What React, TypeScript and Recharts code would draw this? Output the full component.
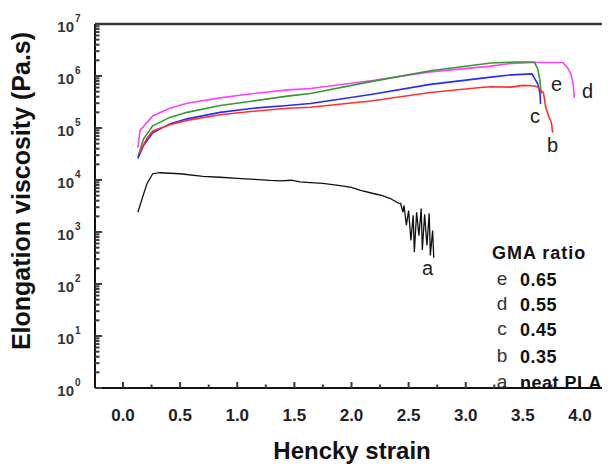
import React from 'react';
import { LineChart, Line, XAxis, YAxis, CartesianGrid } from 'recharts';

const FONT = '"Liberation Sans", Arial, sans-serif';

// Hencky strain / elongation viscosity (Pa.s)
const seriesA_x = [0.13, 0.17, 0.21, 0.26, 0.32, 0.5, 0.7, 0.85, 1.0, 1.15, 1.29, 1.38, 1.47, 1.55, 1.64, 1.75, 1.9, 2.0, 2.08, 2.19, 2.27, 2.34, 2.41, 2.43, 2.45, 2.46, 2.48, 2.5, 2.52, 2.54, 2.55, 2.57, 2.59, 2.61, 2.62, 2.64, 2.66, 2.68, 2.69, 2.71, 2.72];
const seriesA_y = [2400, 4570, 8500, 13200, 13800, 13200, 11700, 11300, 10700, 10300, 9800, 9600, 9900, 9200, 8900, 8600, 7800, 7200, 6300, 5500, 5000, 4400, 3600, 3550, 2400, 3240, 1350, 2570, 690, 2090, 410, 2400, 850, 2820, 450, 2190, 550, 2290, 355, 1070, 320];

const seriesB_x = [0.14, 0.21, 0.26, 0.41, 0.56, 0.85, 1.14, 1.44, 1.64, 2.17, 2.69, 3.13, 3.22, 3.4, 3.5, 3.58, 3.62, 3.68, 3.7, 3.73, 3.75, 3.76];
const seriesB_y = [32000, 64000, 88000, 116000, 140000, 180000, 210000, 240000, 250000, 330000, 480000, 600000, 620000, 610000, 660000, 650000, 630000, 480000, 250000, 160000, 126000, 81000];

const seriesC_x = [0.13, 0.18, 0.26, 0.41, 0.56, 0.85, 1.14, 1.44, 1.64, 2.17, 2.69, 3.22, 3.4, 3.58, 3.6, 3.63, 3.65, 3.655];
const seriesC_y = [26000, 46000, 81000, 120000, 150000, 200000, 240000, 270000, 295000, 440000, 690000, 950000, 1050000, 1100000, 920000, 710000, 460000, 290000];

const seriesD_x = [0.13, 0.15, 0.26, 0.41, 0.56, 0.85, 1.14, 1.44, 1.64, 2.17, 2.69, 3.22, 3.4, 3.6, 3.85, 3.89, 3.92, 3.94, 3.95];
const seriesD_y = [42000, 90000, 170000, 240000, 300000, 380000, 460000, 540000, 575000, 810000, 1200000, 1550000, 1750000, 1820000, 1820000, 1450000, 1100000, 710000, 380000];

const seriesE_x = [0.13, 0.18, 0.26, 0.41, 0.56, 0.85, 1.14, 1.44, 1.64, 2.17, 2.69, 3.22, 3.45, 3.6, 3.63, 3.65, 3.66];
const seriesE_y = [27000, 62000, 110000, 160000, 200000, 270000, 330000, 410000, 460000, 780000, 1260000, 1780000, 1860000, 1860000, 1370000, 810000, 450000];

const xTicks = [0, 0.25, 0.5, 0.75, 1, 1.25, 1.5, 1.75, 2, 2.25, 2.5, 2.75, 3, 3.25, 3.5, 3.75, 4];
const yMajorTicks = [1, 10, 100, 1000, 10000, 100000, 1000000, 10000000];
const legendTitle = 'GMA ratio';
const legendKeys = ['e', 'd', 'c', 'b', 'a'];
const legendLabels = ['0.65', '0.55', '0.45', '0.35', 'neat PLA'];

const X_MIN = -0.245;
const X_MAX = 4.245;
const PL = 87;
const PR = 600;
const PT = 16;
const PB = 380;
const TICK_COLOR = '#3a3a3a';

const yTicks: number[] = [];
yMajorTicks.forEach((m, i) => {
  yTicks.push(m);
  if (i < yMajorTicks.length - 1) for (let k = 2; k <= 9; k++) yTicks.push(m * k);
});

const toPts = (xs: number[], ys: number[]) => xs.map((x, i) => ({ x, y: ys[i] }));
const dataA = toPts(seriesA_x, seriesA_y);
const dataB = toPts(seriesB_x, seriesB_y);
const dataC = toPts(seriesC_x, seriesC_y);
const dataD = toPts(seriesD_x, seriesD_y);
const dataE = toPts(seriesE_x, seriesE_y);

const isMajorY = (v: number) => {
  const lg = Math.log10(v);
  return Math.abs(lg - Math.round(lg)) < 1e-6;
};
const isMajorX = (v: number) => Math.abs(v * 2 - Math.round(v * 2)) < 1e-6;

const YTick = (props: any) => {
  const x = Number(props.x);
  const y = Number(props.y);
  const v = props.payload.value;
  const major = isMajorY(v);
  const exp = Math.round(Math.log10(v));
  return (
    <g>
      <line x1={x} x2={x + (major ? 7 : 4.5)} y1={y} y2={y} stroke={TICK_COLOR} strokeWidth={2} />
      {major && (
        <text x={x - 21} y={y + 8} textAnchor="end" fontSize={15} fontWeight="bold" fontFamily={FONT} fill="#333">10</text>
      )}
      {major && (
        <text x={x - 20} y={y - 2} textAnchor="start" fontSize={10} fontWeight="bold" fontFamily={FONT} fill="#333">{exp}</text>
      )}
    </g>
  );
};

const XTick = (props: any) => {
  const x = Number(props.x);
  const y = Number(props.y);
  const v = props.payload.value;
  const major = isMajorX(v);
  return (
    <g>
      <line x1={x} x2={x} y1={y} y2={y - (major ? 6 : 3.5)} stroke={TICK_COLOR} strokeWidth={2} />
      {major && (
        <text x={x} y={y + 33} textAnchor="middle" fontSize={17} fontWeight="bold" fontFamily={FONT} fill="#222">{v.toFixed(1)}</text>
      )}
    </g>
  );
};

const curveLabels = [
  { t: 'e', left: 543, top: 64 },
  { t: 'd', left: 574, top: 71 },
  { t: 'c', left: 522, top: 96 },
  { t: 'b', left: 539, top: 125 },
  { t: 'a', left: 414, top: 248 },
];

export default function App() {
  return (
    <div style={{ position: 'relative', width: 602, height: 458 }}>
      <LineChart width={602} height={458} data={dataA} margin={{ top: PT, right: 602 - PR, left: 0, bottom: 0 }}>
        <CartesianGrid horizontalPoints={[PT]} verticalPoints={[PR]} stroke={TICK_COLOR} strokeWidth={2.5} />
        <XAxis
          type="number"
          dataKey="x"
          domain={[X_MIN, X_MAX]}
          ticks={xTicks}
          interval={0}
          height={458 - PB}
          tickSize={0}
          tickMargin={0}
          tickLine={false}
          axisLine={{ stroke: '#111', strokeWidth: 2 }}
          tick={XTick}
          allowDataOverflow
          label={() => (
            <text x={344} y={451} textAnchor="middle" fontSize={24} fontWeight="bold" fontFamily={FONT} fill="#111">Hencky strain</text>
          )}
        />
        <YAxis
          type="number"
          dataKey="y"
          scale="log"
          domain={[1, 10000000]}
          ticks={yTicks}
          interval={0}
          width={PL}
          tickSize={0}
          tickMargin={0}
          tickLine={false}
          axisLine={{ stroke: '#111', strokeWidth: 2 }}
          tick={YTick}
          allowDataOverflow
          label={() => (
            <text x={22} y={183} transform="rotate(-90 22 183)" textAnchor="middle" fontSize={25} fontWeight="bold" fontFamily={FONT} fill="#111">Elongation viscosity (Pa.s)</text>
          )}
        />
        <Line data={dataA} dataKey="y" stroke="#111" strokeWidth={1.3} dot={false} isAnimationActive={false} />
        <Line data={dataD} dataKey="y" stroke="#ff40ff" strokeWidth={1.6} dot={false} isAnimationActive={false} />
        <Line data={dataE} dataKey="y" stroke="#339933" strokeWidth={1.6} dot={false} isAnimationActive={false} />
        <Line data={dataC} dataKey="y" stroke="#2a2aff" strokeWidth={1.6} dot={false} isAnimationActive={false} />
        <Line data={dataB} dataKey="y" stroke="#ff3030" strokeWidth={1.6} dot={false} isAnimationActive={false} />
      </LineChart>
      {curveLabels.map((c) => (
        <div key={c.t} style={{ position: 'absolute', left: c.left, top: c.top, fontFamily: FONT, fontSize: 20, lineHeight: '24px', color: '#222' }}>{c.t}</div>
      ))}
      <div style={{ position: 'absolute', left: 484, top: 234, fontFamily: FONT, fontSize: 18, fontWeight: 'bold', letterSpacing: 1, lineHeight: '22px', color: '#111', whiteSpace: 'nowrap' }}>{legendTitle}</div>
      {legendKeys.map((k, i) => {
        const tops = [261, 286, 311, 338, 364];
        return (
          <React.Fragment key={k}>
            <div style={{ position: 'absolute', left: 488, top: tops[i] - 1, width: 12, textAlign: 'center', fontFamily: FONT, fontSize: 19, lineHeight: '22px', color: '#333' }}>{k}</div>
            <div style={{ position: 'absolute', left: 512, top: tops[i], fontFamily: FONT, fontSize: 18, fontWeight: 'bold', letterSpacing: 0.5, lineHeight: '22px', color: '#111', whiteSpace: 'nowrap' }}>{legendLabels[i]}</div>
          </React.Fragment>
        );
      })}
    </div>
  );
}
